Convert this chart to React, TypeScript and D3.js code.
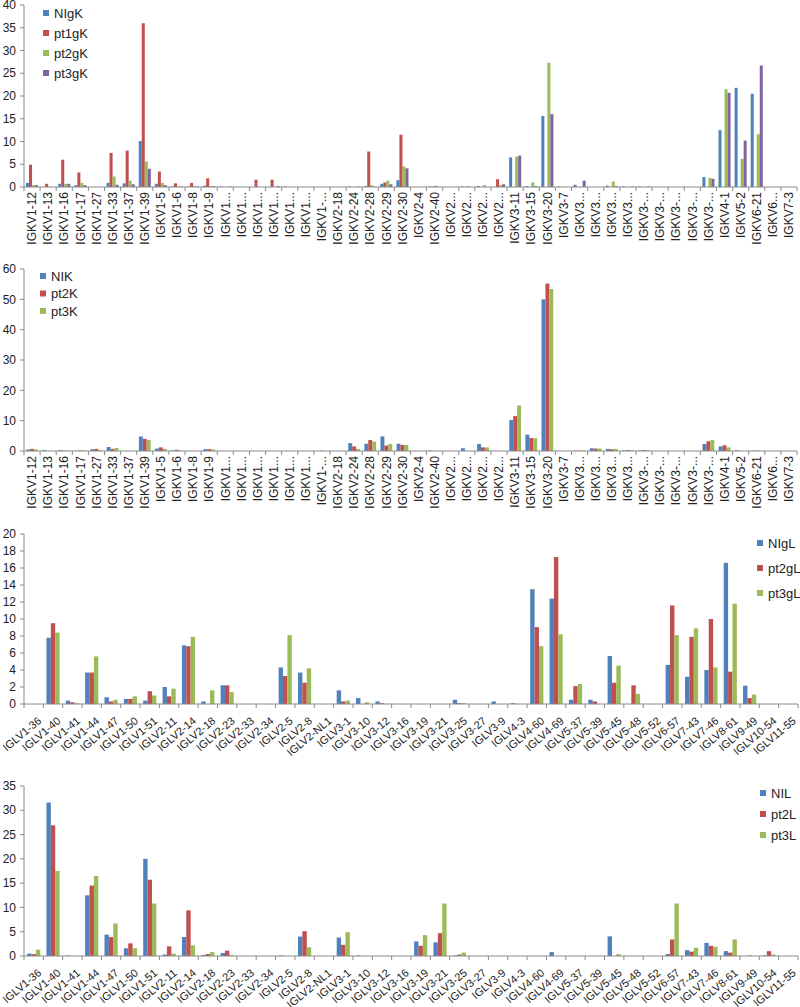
import React from "react";
import * as d3 from "d3";

// ---------- DATA ----------
const kappaCats = [
  "IGKV1-12","IGKV1-13","IGKV1-16","IGKV1-17","IGKV1-27","IGKV1-33","IGKV1-37","IGKV1-39","IGKV1-5","IGKV1-6","IGKV1-8","IGKV1-9",
  "IGKV1...","IGKV1...","IGKV1...","IGKV1...","IGKV1...","IGKV1...","IGKV1-...",
  "IGKV2-18","IGKV2-24","IGKV2-28","IGKV2-29","IGKV2-30","IGKV2-4","IGKV2-40",
  "IGKV2...","IGKV2...","IGKV2...","IGKV2...",
  "IGKV3-11","IGKV3-15","IGKV3-20","IGKV3-7",
  "IGKV3...","IGKV3...","IGKV3...","IGKV3...",
  "IGKV3-...","IGKV3-...","IGKV3-...","IGKV3-...","IGKV3-...",
  "IGKV4-1","IGKV5-2","IGKV6-21","IGKV6...","IGKV7-3"
];

const lambdaCats = [
  "IGLV1-36","IGLV1-40","IGLV1-41","IGLV1-44","IGLV1-47","IGLV1-50","IGLV1-51","IGLV2-11","IGLV2-14","IGLV2-18",
  "IGLV2-23","IGLV2-33","IGLV2-34","IGLV2-5","IGLV2-8","IGLV2-NL1","IGLV3-1","IGLV3-10","IGLV3-12","IGLV3-16",
  "IGLV3-19","IGLV3-21","IGLV3-25","IGLV3-27","IGLV3-9","IGLV4-3","IGLV4-60","IGLV4-69","IGLV5-37","IGLV5-39",
  "IGLV5-45","IGLV5-48","IGLV5-52","IGLV6-57","IGLV7-43","IGLV7-46","IGLV8-61","IGLV9-49","IGLV10-54","IGLV11-55"
];

// Panel 1
const NIgK = [0.9,0,0.7,0.4,0,0.9,0.8,10.1,0.7,0.1,0.1,0.3,0.1,0,0,0,0.1,0,0,0,0.1,0.2,0.7,1.5,0,0.1,0,0.1,0.2,0,6.5,0.2,15.6,0.1,0.5,0,0.3,0.1,0.1,0,0,0,2.2,12.5,21.8,20.5,0,0];
const pt1gK = [4.9,0.7,6.0,3.2,0,7.5,8.0,36.0,3.4,0.8,0.9,1.9,0,0,1.6,1.6,0,0,0,0,0,7.8,1.0,11.5,0,0.1,0,0,0,1.7,0,0,0,0,0,0,0,0,0,0,0,0,0,0,0,0,0,0];
const pt2gK = [0.4,0,0.7,0.9,0,2.3,1.4,5.6,0.9,0.1,0.2,0.2,0,0,0,0,0,0,0,0,0,0.4,1.4,4.5,0,0.3,0,0.2,0.4,0.4,6.7,1.0,27.3,0,0,0,1.2,0,0,0,0,0,2.0,21.5,6.2,11.6,0,0];
const pt3gK = [0.4,0,0.7,0.4,0,0.5,0.6,4.0,0.4,0.1,0.1,0.2,0.1,0,0,0.2,0,0,0,0,0.1,0.1,0.6,4.1,0,0,0,0,0,0.6,6.9,0.2,16.0,0,1.4,0,0.2,0.1,0.1,0,0,0,1.8,20.7,10.2,26.7,0,0];

// Panel 2
const NIK = [0.5,0.3,0.3,0.1,0.6,1.3,0,4.8,0.8,0.2,0,0.6,0,0,0,0,0,0,0,0,2.6,2.4,4.8,2.4,0,0.2,0,0.9,2.3,0,10.2,5.4,50.0,0,0.1,0.9,0.7,0.2,0.2,0,0,0,2.3,1.5,0.2,0.1,0,0];
const pt2K = [0.7,0,0.1,0.2,0.7,0.7,0,4.0,1.2,0.4,0,0.6,0,0,0,0,0,0,0.1,0,1.5,3.6,1.8,2.0,0,0,0,0,1.2,0,11.5,4.3,55.2,0,0.1,0.8,0.6,0.3,0.3,0,0,0,3.2,1.9,0,0.1,0,0];
const pt3K = [0.5,0,0.1,0.2,0.3,1.0,0,3.6,0.7,0.1,0,0.5,0,0,0,0,0,0,0,0,0.7,3.1,2.3,2.0,0,0,0,0,1.2,0,15.0,4.2,53.4,0,0.1,0.8,0.7,0.2,0.2,0,0,0,3.6,1.2,0,0,0,0];

// Panel 3
const NIgL = [0,7.8,0.4,3.7,0.8,0.6,0.4,2.0,6.9,0.3,2.2,0,0,4.3,3.7,0,1.6,0.7,0.3,0,0,0,0.5,0,0.3,0.1,13.5,12.4,0.5,0.5,5.65,0,0,4.6,3.2,4.0,16.6,2.15,0,0];
const pt2gL = [0,9.5,0.2,3.7,0.3,0.6,1.5,0.9,6.8,0,2.2,0,0,3.3,2.5,0,0.3,0,0.1,0,0,0,0.1,0,0,0,9.05,17.3,2.1,0.3,2.5,2.2,0,11.6,7.9,10.0,3.8,0.7,0,0];
const pt3gL = [0,8.4,0.1,5.6,0.5,0.9,1.0,1.8,7.9,1.6,1.4,0,0,8.1,4.2,0,0.4,0.2,0,0,0,0,0.1,0,0,0,6.8,8.2,2.35,0,4.5,1.2,0,8.1,8.9,4.3,11.8,1.1,0,0];

// Panel 4
const NIL = [0.5,31.6,0.1,12.5,4.4,1.6,20.0,0.3,3.9,0.2,0.6,0,0,0.1,4.0,0,3.8,0.1,0,0,3.0,2.8,0.1,0,0,0,0,0.8,0,0,4.05,0,0,0.4,1.2,2.7,1.0,0,0.1,0];
const pt2L = [0.4,26.9,0,14.5,3.9,2.6,15.7,2.0,9.4,0.4,1.1,0,0,0,5.1,0,2.3,0,0,0,2.1,4.7,0.3,0,0,0,0,0,0,0,0,0,0,3.4,0.9,2.1,0.7,0.1,1.0,0];
const pt3L = [1.3,17.5,0,16.5,6.7,1.6,10.8,0.5,2.2,0.8,0.2,0,0,0,1.8,0,4.9,0,0,0,4.3,10.8,0.7,0,0,0,0,0,0,0,0.4,0,0,10.8,1.7,1.9,3.4,0,0.3,0];

const BLUE = "#4F81BD";
const RED = "#C0504D";
const GREEN = "#9BBB59";
const PURPLE = "#8064A2";

const FONT = "'Liberation Sans', Arial, Helvetica, sans-serif";
const AXIS = "#8a8a8a";
const TXT = "#222";

type Series = { name: string; color: string; values: number[] };

type PanelProps = {
  cats: string[];
  series: Series[];
  yMax: number;
  yStep: number;
  y0: number;
  yTop: number;
  x0: number;
  x1: number;
  groupFrac: number;
  labelAngle: number;
  legendX: number;
  legendY: number;
  legendGap: number;
};

function Panel(p: PanelProps) {
  const x = d3.scaleBand<number>().domain(d3.range(p.cats.length)).range([p.x0, p.x1]).padding(0);
  const bw = x.bandwidth();
  const gap = bw * (1 - p.groupFrac);
  const xs = d3
    .scaleBand<string>()
    .domain(p.series.map((s) => s.name))
    .range([gap / 2, bw - gap / 2])
    .padding(0);
  const y = d3.scaleLinear().domain([0, p.yMax]).range([p.y0, p.yTop]);
  const ticks = d3.range(0, p.yMax + p.yStep / 2, p.yStep);
  const boundaries = d3.range(p.cats.length + 1).map((i) => p.x0 + i * bw);

  return (
    <g>
      {p.series.map((s) => (
        <g key={s.name}>
          {s.values.map((v, i) =>
            v > 0 ? (
              <rect
                key={i}
                x={(x(i) as number) + (xs(s.name) as number)}
                y={y(v)}
                width={xs.bandwidth()}
                height={p.y0 - y(v)}
                fill={s.color}
              />
            ) : null
          )}
        </g>
      ))}
      <line x1={p.x0} x2={p.x0} y1={p.yTop} y2={p.y0} stroke={AXIS} strokeWidth={1} />
      {ticks.map((t) => (
        <g key={t}>
          <line x1={p.x0 - 4} x2={p.x0} y1={y(t)} y2={y(t)} stroke={AXIS} />
          <text
            x={p.x0 - 8}
            y={y(t)}
            dy="0.35em"
            textAnchor="end"
            fontSize={12}
            fontFamily={FONT}
            fill={TXT}
          >
            {t}
          </text>
        </g>
      ))}
      <line x1={p.x0} x2={p.x1} y1={p.y0} y2={p.y0} stroke={AXIS} strokeWidth={1} />
      {boundaries.map((bx, i) => (
        <line key={i} x1={bx} x2={bx} y1={p.y0} y2={p.y0 + 4} stroke={AXIS} />
      ))}
      {p.cats.map((c, i) => {
        const cx = (x(i) as number) + bw / 2;
        if (p.labelAngle === -90) {
          return (
            <text
              key={i}
              transform={`translate(${cx},${p.y0 + 5}) rotate(-90)`}
              dy="0.35em"
              textAnchor="end"
              fontSize={12}
              fontFamily={FONT}
              fill={TXT}
            >
              {c}
            </text>
          );
        }
        return (
          <text
            key={i}
            transform={`translate(${cx + 6},${p.y0 + 15}) rotate(${p.labelAngle})`}
            dy="0.35em"
            textAnchor="end"
            fontSize={11}
            fontFamily={FONT}
            fill={TXT}
          >
            {c}
          </text>
        );
      })}
      {p.series.map((s, i) => (
        <g key={s.name} transform={`translate(${p.legendX},${p.legendY + i * p.legendGap})`}>
          <rect x={-3} y={-3} width={6} height={6} fill={s.color} />
          <text x={8} y={0} dy="0.35em" fontSize={13} fontFamily={FONT} fill={TXT}>
            {s.name}
          </text>
        </g>
      ))}
    </g>
  );
}

export default function App() {
  return (
    <svg
      width={800}
      height={1007}
      style={{ position: "absolute", left: 0, top: 0, background: "#fff" }}
    >
      <rect x={0} y={0} width={800} height={1007} fill="#fff" />
      <Panel
        cats={kappaCats}
        series={[
          { name: "NIgK", color: BLUE, values: NIgK },
          { name: "pt1gK", color: RED, values: pt1gK },
          { name: "pt2gK", color: GREEN, values: pt2gK },
          { name: "pt3gK", color: PURPLE, values: pt3gK },
        ]}
        yMax={40}
        yStep={5}
        y0={187}
        yTop={5}
        x0={24}
        x1={797}
        groupFrac={0.75}
        labelAngle={-90}
        legendX={46}
        legendY={13}
        legendGap={20}
      />
      <Panel
        cats={kappaCats}
        series={[
          { name: "NIK", color: BLUE, values: NIK },
          { name: "pt2K", color: RED, values: pt2K },
          { name: "pt3K", color: GREEN, values: pt3K },
        ]}
        yMax={60}
        yStep={10}
        y0={451}
        yTop={269}
        x0={24}
        x1={797}
        groupFrac={0.73}
        labelAngle={-90}
        legendX={43}
        legendY={276}
        legendGap={17.5}
      />
      <Panel
        cats={lambdaCats}
        series={[
          { name: "NIgL", color: BLUE, values: NIgL },
          { name: "pt2gL", color: RED, values: pt2gL },
          { name: "pt3gL", color: GREEN, values: pt3gL },
        ]}
        yMax={20}
        yStep={2}
        y0={704}
        yTop={534}
        x0={24}
        x1={798}
        groupFrac={0.68}
        labelAngle={-40}
        legendX={760}
        legendY={543}
        legendGap={25}
      />
      <Panel
        cats={lambdaCats}
        series={[
          { name: "NIL", color: BLUE, values: NIL },
          { name: "pt2L", color: RED, values: pt2L },
          { name: "pt3L", color: GREEN, values: pt3L },
        ]}
        yMax={35}
        yStep={5}
        y0={956}
        yTop={786}
        x0={24}
        x1={798}
        groupFrac={0.68}
        labelAngle={-40}
        legendX={763}
        legendY={793}
        legendGap={21}
      />
    </svg>
  );
}
